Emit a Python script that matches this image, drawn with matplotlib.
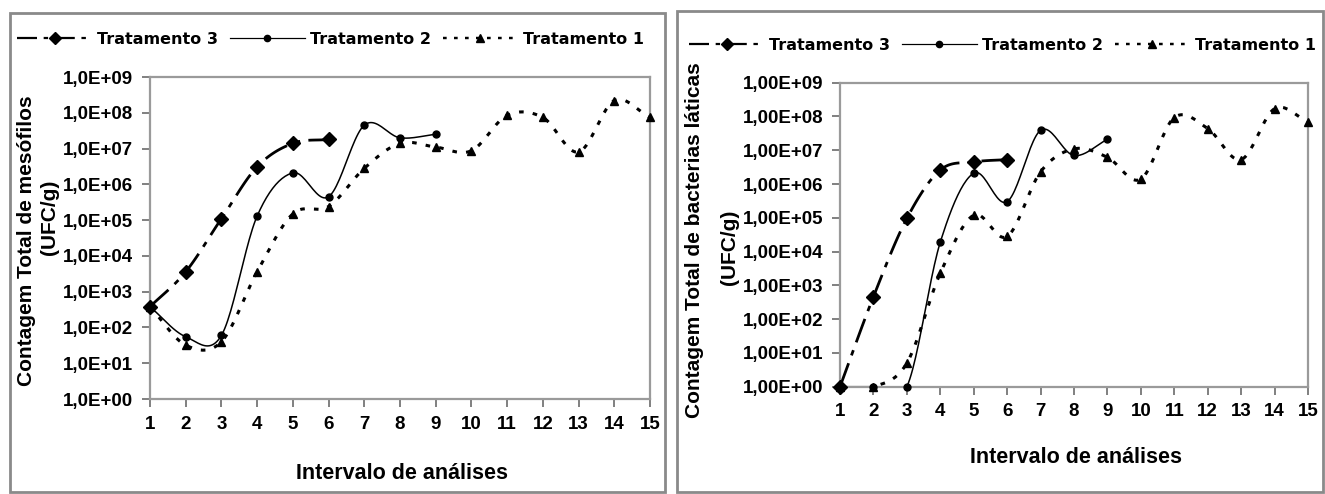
import numpy as np
import matplotlib
matplotlib.use("Agg")
import matplotlib.pyplot as plt
from matplotlib.patches import Rectangle
from matplotlib.lines import Line2D

# intervalo de analises
x_t3 = [1, 2, 3, 4, 5, 6]
x_t2 = [1, 2, 3, 4, 5, 6, 7, 8, 9]
x_t1 = [1, 2, 3, 4, 5, 6, 7, 8, 9, 10, 11, 12, 13, 14, 15]

# contagem total de mesofilos (UFC/g)
mes_t3 = [380, 3600, 1.1e5, 3.1e6, 1.4e7, 1.8e7]
mes_t2 = [380, 55, 60, 1.3e5, 2.1e6, 4.5e5, 4.5e7, 2.0e7, 2.5e7]
mes_t1 = [380, 32, 40, 3.6e3, 1.5e5, 2.4e5, 2.8e6, 1.4e7, 1.1e7, 8.7e6, 8.5e7, 7.4e7, 8.0e6, 2.2e8, 7.4e7]

# contagem total de bacterias laticas (UFC/g)
lat_t3 = [1, 4.6e2, 9.6e4, 2.6e6, 4.5e6, 5.3e6]
lat_t2 = [1, 1, 1, 1.9e4, 2.1e6, 3.0e5, 3.9e7, 7.0e6, 2.1e7]
lat_t1 = [1, 1, 5, 2.3e3, 1.2e5, 2.8e4, 2.3e6, 1.1e7, 6.2e6, 1.4e6, 9.3e7, 4.4e7, 5.3e6, 1.7e8, 6.9e7]

series_names = ["Tratamento 3", "Tratamento 2", "Tratamento 1"]
exps = list(range(0, 10))
labels_mes = ["1,0E+%02d" % e for e in exps]
labels_lat = ["1,00E+%02d" % e for e in exps]

W, H = 1325, 494
LBL = "Liberation Sans"


def fx(x):
    return x / W


def fy(y):
    return 1 - y / H


def smooth(x, y, n=24):
    # curva suavizada (tipo excel) no espaco log
    x = np.asarray(x, float)
    y = np.log10(np.asarray(y, float))
    k = len(x)
    xs, ys = [], []
    t = np.linspace(0, 1, n)
    h00 = 2 * t**3 - 3 * t**2 + 1
    h10 = t**3 - 2 * t**2 + t
    h01 = -2 * t**3 + 3 * t**2
    h11 = t**3 - t**2
    for i in range(k - 1):
        m0 = (y[i + 1] - y[i - 1]) / 2 if i > 0 else (y[1] - y[0])
        m1 = (y[i + 2] - y[i]) / 2 if i + 2 < k else (y[k - 1] - y[k - 2])
        xs.append(x[i] + t * (x[i + 1] - x[i]))
        ys.append(h00 * y[i] + h10 * m0 + h01 * y[i + 1] + h11 * m1)
    return np.concatenate(xs), 10 ** np.concatenate(ys)


styles = [
    dict(ls=(0, (9, 3, 2, 3)), lw=2.0, marker="D", ms=7),
    dict(ls="-", lw=1.1, marker="o", ms=5),
    dict(ls=(0, (1.5, 3)), lw=2.2, marker="^", ms=6),
]


def panel(fig, box, xs, ys, ylabels, ytitle, ytitle_x, ytitle_y, ufc_x, ufc_y, xlab_y, leg_xy):
    x0, y0, x1, y1 = box
    ax = fig.add_axes([fx(x0), fy(y1), fx(x1 - x0), (y1 - y0) / H])
    for xv, yv, st in zip(xs, ys, styles):
        sx, sy = smooth(xv, yv)
        ax.plot(sx, sy, color="black", ls=st["ls"], lw=st["lw"], clip_on=True)
        ax.plot(xv, yv, ls="none", marker=st["marker"], ms=st["ms"], color="black", clip_on=False, zorder=5)
    ax.set_yscale("log")
    ax.set_ylim(1, 1e9)
    ax.set_xlim(1, 15)
    ax.set_yticks([10.0**e for e in exps], ylabels)
    ax.minorticks_off()
    ax.set_xticks(range(1, 16))
    for s in ax.spines.values():
        s.set_color("#9a9a9a")
        s.set_linewidth(1.6)
    ax.tick_params(axis="both", direction="out", length=6, width=1.4, color="#808080",
                   labelsize=13.5, pad=6)
    for lab in ax.get_xticklabels() + ax.get_yticklabels():
        lab.set_fontfamily(LBL)
        lab.set_fontweight("bold")

    xm = (x0 + x1) / 2
    fig.text(fx(ytitle_x), fy(ytitle_y), ytitle, rotation=90,
             ha="center", va="center", fontsize=15, fontweight="bold", family=LBL)
    fig.text(fx(ufc_x), fy(ufc_y), "(UFC/g)", rotation=90, ha="center", va="center",
             fontsize=15, fontweight="bold", family=LBL)
    fig.text(fx(xm + 2), fy(xlab_y), "Intervalo de análises", ha="center", va="center",
             fontsize=15.5, fontweight="bold", family=LBL)

    handles = [Line2D([], [], color="black", ls=st["ls"], lw=st["lw"] * 0.8,
                      marker=st["marker"], ms=st["ms"] * 0.9) for st in styles]
    ax.legend(handles, series_names, loc="center left", bbox_to_anchor=(fx(leg_xy[0]), fy(leg_xy[1])),
              bbox_transform=fig.transFigure, ncol=3, frameon=False, handlelength=4.7,
              handletextpad=0.3, columnspacing=0.75, borderpad=0, borderaxespad=0,
              prop=dict(family="DejaVu Sans", weight="bold", size=11.5))
    return ax


def main():
    fig = plt.figure(figsize=(W / 100, H / 100), dpi=100)

    # molduras dos dois graficos
    fig.patches.append(Rectangle((fx(10), fy(492)), fx(655), (492 - 13) / H, transform=fig.transFigure,
                                 fill=False, ec="#8a8a8a", lw=2))
    fig.patches.append(Rectangle((fx(677), fy(492)), fx(646), (492 - 11) / H, transform=fig.transFigure,
                                 fill=False, ec="#8a8a8a", lw=2))

    panel(fig, (150, 77, 650, 399), [x_t3, x_t2, x_t1], [mes_t3, mes_t2, mes_t1], labels_mes,
          "Contagem Total de mesófilos", 27, 241, 50, 217, 473, (17, 39))
    panel(fig, (840, 82.7, 1308, 386.7), [x_t3, x_t2, x_t1], [lat_t3, lat_t2, lat_t1], labels_lat,
          "Contagem Total de bacterias láticas", 695, 240, 730, 247, 457, (689, 45))

    fig.savefig("out.png", dpi=100)


if __name__ == "__main__":
    main()
